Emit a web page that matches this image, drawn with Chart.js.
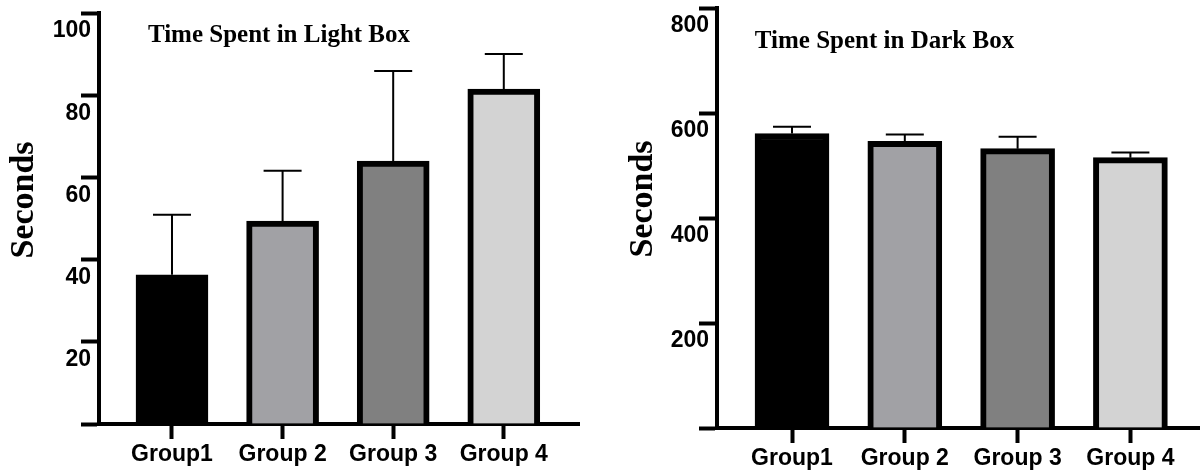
<!DOCTYPE html>
<html>
<head>
<meta charset="utf-8">
<script src="https://cdn.jsdelivr.net/npm/chart.js@4.4.1/dist/chart.umd.min.js"></script>
<style>
  body { margin: 0; background: #fff; }
  #wrap { position: relative; width: 1200px; height: 470px; }
  .panel { position: absolute; top: 0; width: 600px; height: 470px; }
</style>
</head>
<body>
<div id="wrap">
  <div class="panel" style="left:0"><canvas id="lightChart" width="600" height="470"></canvas></div>
  <div class="panel" style="left:600px"><canvas id="darkChart" width="600" height="470"></canvas></div>
</div>
<script>
const groups = ['Group1', 'Group 2', 'Group 3', 'Group 4'];
const barColors = ['#000000', '#a1a1a5', '#808080', '#d3d3d3'];

// Time spent in light box (mean + upper error)
const lightMeans = [36.3, 49.4, 64.0, 81.5];
const lightErrors = [14.6, 12.2, 21.9, 8.5];
const lightTicks = [0, 20, 40, 60, 80, 100];

// Time spent in dark box
const darkMeans = [561, 546, 532, 515];
const darkErrors = [13, 13, 23, 10];
const darkTicks = [0, 200, 400, 600, 800];

// upper error bars with a cap, drawn through the chart's own scales
const errorBars = {
    id: 'errorBars',
    afterDatasetsDraw(chart, args, opts) {
        const ctx = chart.ctx;
        const yScale = chart.scales.y;
        const meta = chart.getDatasetMeta(0);
        ctx.save();
        ctx.strokeStyle = '#000';
        ctx.lineWidth = 2;
        meta.data.forEach(function(bar, i) {
            const top = yScale.getPixelForValue(opts.means[i] + opts.errors[i]);
            ctx.beginPath();
            ctx.moveTo(bar.x, bar.y);
            ctx.lineTo(bar.x, top);
            ctx.moveTo(bar.x - opts.cap, top);
            ctx.lineTo(bar.x + opts.cap, top);
            ctx.stroke();
        });
        ctx.restore();
    }
};

// panel title and the rotated "Seconds" label
const panelText = {
    id: 'panelText',
    afterDraw(chart, args, opts) {
        const ctx = chart.ctx;
        ctx.save();
        ctx.fillStyle = '#000';
        ctx.textAlign = 'center';
        ctx.textBaseline = 'alphabetic';
        ctx.font = 'bold 25px "Liberation Serif"';
        ctx.fillText(opts.title, opts.titleX, opts.titleY);
        ctx.translate(opts.axisX, opts.axisY);
        ctx.rotate(-Math.PI / 2);
        ctx.font = 'bold 34px "Liberation Serif"';
        ctx.fillText('Seconds', 0, 0);
        ctx.restore();
    }
};

function makeChart(id, cfg) {
    const tickFont = { family: 'Liberation Sans', size: 23, weight: 'bold' };
    return new Chart(document.getElementById(id), {
        type: 'bar',
        data: {
            datasets: [{
                data: cfg.means.map(function(m, i) { return { x: i, y: m }; }),
                backgroundColor: barColors,
                borderColor: '#000',
                borderWidth: 6,
                barThickness: cfg.barWidth
            }]
        },
        options: {
            responsive: false,
            animation: false,
            devicePixelRatio: 1,
            layout: { padding: { top: cfg.top, right: cfg.right, left: 0, bottom: 0 } },
            plugins: {
                legend: { display: false },
                tooltip: { enabled: false },
                errorBars: { means: cfg.means, errors: cfg.errors, cap: 19 },
                panelText: cfg.text
            },
            scales: {
                x: {
                    type: 'linear',
                    min: cfg.xMin,
                    max: cfg.xMax,
                    offset: false,
                    z: 1,
                    afterBuildTicks: function(axis) {
                        axis.ticks = groups.map(function(g, i) { return { value: i }; });
                    },
                    afterFit: function(axis) {
                        axis.height = cfg.xHeight;
                        axis.paddingLeft = 0;
                        axis.paddingRight = 0;
                    },
                    grid: { offset: false, drawOnChartArea: false, tickLength: 15, tickWidth: 4, tickColor: '#000' },
                    border: { color: '#000', width: 4 },
                    ticks: {
                        callback: function(v) { return groups[v]; },
                        color: '#000',
                        font: { family: 'Liberation Sans', size: 23, weight: 'bold' },
                        padding: 2,
                        maxRotation: 0,
                        autoSkip: false
                    }
                },
                y: {
                    min: 0,
                    max: cfg.yMax,
                    z: 1,
                    afterBuildTicks: function(axis) {
                        axis.ticks = cfg.ticks.map(function(v) { return { value: v }; });
                    },
                    afterFit: function(axis) {
                        axis.width = cfg.yWidth;
                        axis.paddingTop = 0;
                        axis.paddingBottom = 0;
                    },
                    grid: { drawOnChartArea: false, tickLength: 18, tickWidth: 4, tickColor: '#000' },
                    border: { color: '#000', width: 4 },
                    ticks: {
                        callback: function(v) { return v === 0 ? '' : v; },
                        color: '#000',
                        font: tickFont,
                        labelOffset: 18,
                        padding: -10
                    }
                }
            }
        },
        plugins: [errorBars, panelText]
    });
}

makeChart('lightChart', {
    means: lightMeans, errors: lightErrors, ticks: lightTicks, yMax: 100,
    barWidth: 72, top: 13, right: 21, xHeight: 46, yWidth: 99,
    xMin: -0.66, xMax: 3.68,
    text: { title: 'Time Spent in Light Box', titleX: 279, titleY: 42, axisX: 33, axisY: 200 }
});

makeChart('darkChart', {
    means: darkMeans, errors: darkErrors, ticks: darkTicks, yMax: 800,
    barWidth: 74, top: 8, right: 0, xHeight: 42, yWidth: 117,
    xMin: -0.665, xMax: 3.617,
    text: { title: 'Time Spent in Dark Box', titleX: 284.5, titleY: 48, axisX: 52, axisY: 199 }
});
</script>
</body>
</html>
